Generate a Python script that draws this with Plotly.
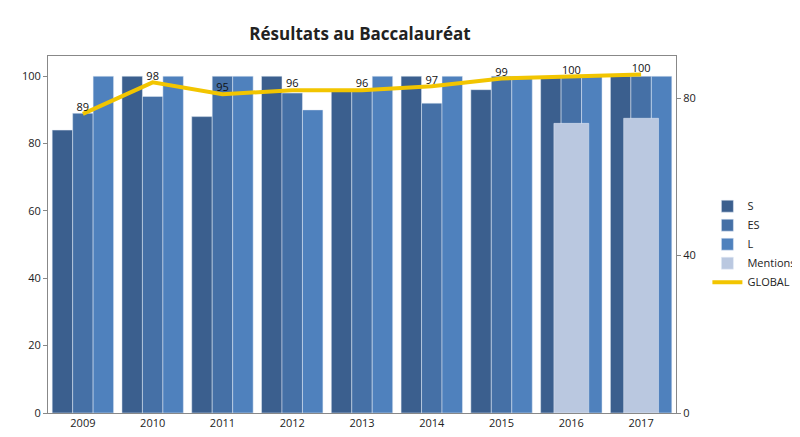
import plotly.graph_objects as go

years = ["2009", "2010", "2011", "2012", "2013", "2014", "2015", "2016", "2017"]
s_vals = [84, 100, 88, 100, 96, 100, 96, 100, 100]
es_vals = [89, 94, 100, 95, 96, 92, 100, 100, 100]
l_vals = [100, 100, 100, 90, 100, 100, 100, 100, 100]
mentions = [None, None, None, None, None, None, None, 86, 87.5]
global_line = [76, 84, 81, 82, 82, 83, 85, 85.5, 86]
global_labels = ["89", "98", "95", "96", "96", "97", "99", "100", "100"]

fig = go.Figure()
fig.add_trace(go.Bar(x=years, y=s_vals, name="S", marker_color="#3b5f8e"))
fig.add_trace(go.Bar(x=years, y=es_vals, name="ES", marker_color="#4570a6"))
fig.add_trace(go.Bar(x=years, y=l_vals, name="L", marker_color="#4f81bd"))
fig.add_trace(go.Bar(x=years, y=mentions, name="Mentions", marker_color="#bac8e0",
                     width=0.5, offset=-0.25))
fig.add_trace(go.Scatter(x=years, y=global_line, name="GLOBAL", yaxis="y2",
                         mode="lines+text", text=global_labels, textposition="top center",
                         textfont=dict(size=11, color="#111"),
                         line=dict(color="#f2c500", width=4)))

fig.update_layout(
    width=800, height=437,
    title=dict(text="<b>Résultats au Baccalauréat</b>", x=0.44, y=0.955,
               font=dict(family="Open Sans", size=17, color="#222")),
    font=dict(family="Open Sans", size=11, color="#222"),
    paper_bgcolor="white", plot_bgcolor="white",
    margin=dict(l=40, r=132, t=48, b=32, autoexpand=False),
    barmode="group", bargap=0.12, bargroupgap=0,
    xaxis=dict(showline=True, linecolor="#888", mirror=True, ticks=""),
    yaxis=dict(range=[0, 106], dtick=20, showgrid=False, showline=True,
               linecolor="#888", ticks="outside", ticklen=4, tickcolor="#888"),
    yaxis2=dict(range=[0, 90.7], tickvals=[0, 40, 80], overlaying="y", side="right",
                showgrid=False, showline=True, linecolor="#888",
                ticks="outside", ticklen=4, tickcolor="#888"),
    legend=dict(x=1.05, y=0.62, xanchor="left", yanchor="top",
                font=dict(size=11), bgcolor="rgba(0,0,0,0)"),
    shapes=[dict(type="rect", xref="paper", yref="paper", x0=-0.07, x1=1.2,
                 y0=-0.085, y1=1.15, line=dict(color="#aaa", width=1))],
)
fig.write_html("out.html")
